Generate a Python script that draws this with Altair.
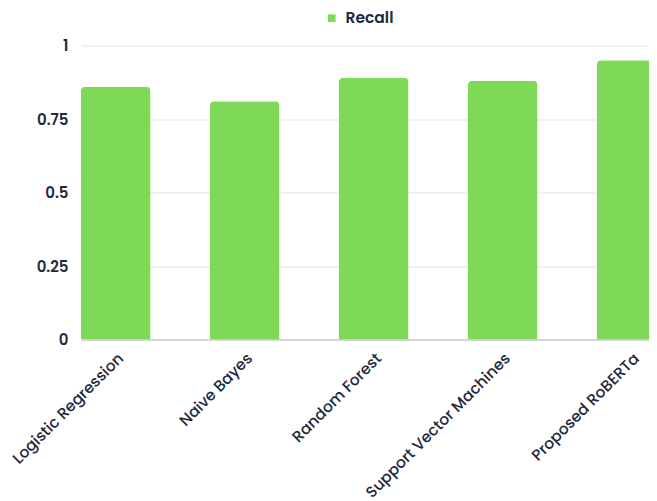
import altair as alt
import pandas as pd

models = ["Logistic Regression", "Naive Bayes", "Random Forest",
          "Support Vector Machines", "Proposed RoBERTa"]
recall = [0.86, 0.81, 0.89, 0.88, 0.95]
series = ["Recall"] * len(models)
y_ticks = [0, 0.25, 0.5, 0.75, 1]

df = pd.DataFrame({"model": models, "recall": recall, "series": series})

FONT = "Poppins, Inter, Lato, sans-serif"
TEXT = "#1e2a3f"

chart = (
    alt.Chart(df)
    .mark_bar(color="#7ed957", cornerRadiusTopLeft=4, cornerRadiusTopRight=4)
    .encode(
        x=alt.X(
            "model:N",
            sort=models,
            title=None,
            scale=alt.Scale(range=[0, 585.5], paddingInner=0.461, paddingOuter=0),
            axis=alt.Axis(
                labelAngle=-45,
                labelFont=FONT,
                labelFontSize=15.5,
                labelFontWeight=500,
                labelColor=TEXT,
                labelLimit=400,
                ticks=False,
                domainColor="#cccccc",
                domainWidth=1.5,
                labelPadding=11,
            ),
        ),
        y=alt.Y(
            "recall:Q",
            title=None,
            scale=alt.Scale(domain=[0, 1], nice=False),
            axis=alt.Axis(
                values=y_ticks,
                labelExpr="datum.value == 0 ? '0' : datum.value == 1 ? '1' : format(datum.value, '.2~f')",
                labelFont=FONT,
                labelFontSize=15,
                labelFontWeight=600,
                labelColor=TEXT,
                ticks=False,
                domain=False,
                labelPadding=13,
                gridColor="#e3e3e3",
                gridWidth=1.2,
            ),
        ),
        color=alt.Color(
            "series:N",
            scale=alt.Scale(range=["#7ed957"]),
            legend=alt.Legend(
                title=None,
                orient="none",
                legendX=243,
                legendY=-35,
                symbolType="square",
                symbolSize=60,
                symbolStrokeWidth=0,
                labelFont=FONT,
                labelFontSize=15.5,
                labelFontWeight=600,
                labelColor=TEXT,
                labelOffset=6,
            ),
        ),
    )
    .properties(
        width=568,
        height=294,
        autosize=alt.AutoSizeParams(type="none"),
        padding={"left": 73, "top": 37.5, "right": 0, "bottom": 162},
    )
    .configure_view(stroke=None)
)

chart.save("out.html", embed_options={"renderer": "svg", "actions": False})
